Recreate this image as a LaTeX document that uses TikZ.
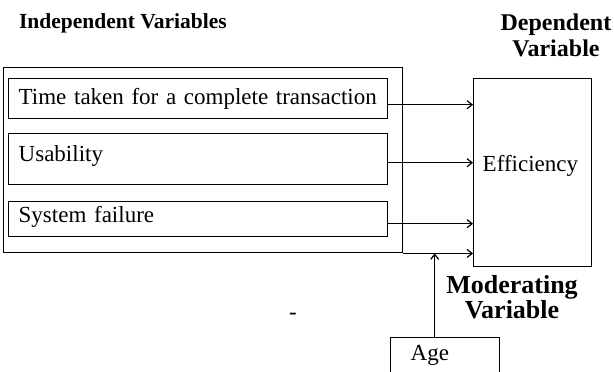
\documentclass[tikz,border=0pt]{standalone}
\usepackage{fontspec}
\setmainfont{Liberation Serif}[BoldFont={Liberation Serif Bold}, ItalicFont={Liberation Serif Italic}]
\usetikzlibrary{arrows.meta,positioning,calc}

\begin{document}
\begin{tikzpicture}[x=1pt, y=-1pt, line width=1.4pt,
    every node/.style={font=\fontsize{23}{27}\selectfont},
    varbox/.style={draw, rectangle, anchor=north west, inner xsep=10pt, inner ysep=0pt,
        text width=359pt, align=left, minimum height=#1},
    arr/.style={-{Straight Barb[length=5pt,width=8pt,line width=1.2pt]}}]
            \clip (0,0) rectangle (614,372);
            % headings
            \node[anchor=west, font=\fontsize{21.5}{26}\selectfont\bfseries] (indep) at (15,23) {Independent Variables};
            \node[align=center, font=\fontsize{24}{26}\selectfont\bfseries] (dep) at (556,35) {Dependent\\Variable};
            \node[align=center, font=\fontsize{26}{25}\selectfont\bfseries] (mod) at (512,297) {Moderating\\Variable};
            \node (dash) at (293,316) {-};
            
            % boxes
            \node[draw, rectangle, anchor=north west, inner sep=0pt, minimum width=399pt, minimum height=185pt] (outer) at (3,67) {};
            \node[varbox=40pt] (time) at (8,78) {Time taken for a complete transaction};
            \node[varbox=51pt, text depth=12pt] (usab) at (8,133) {Usability};
            \node[varbox=35pt, text depth=10pt] (sysf) at (8,201) {System failure};
            \node[draw, rectangle, anchor=north west, inner xsep=9pt, text width=100pt, align=left,
                minimum height=188pt, text depth=19pt] (eff) at (473,78) {Efficiency};
            \node[draw, rectangle, anchor=north west, inner xsep=20pt, text width=69pt, align=left,
                minimum height=44pt, text depth=13pt] (age) at (390,337) {Age};
            
            % connectors
            \draw[arr] ([yshift=-6pt]time.east) -- ([yshift=-6pt]time.east -| eff.west);
            \draw[arr] ([yshift=-3.5pt]usab.east) -- ([yshift=-3.5pt]usab.east -| eff.west);
            \draw[arr] ([yshift=-4.5pt]sysf.east) -- ([yshift=-4.5pt]sysf.east -| eff.west);
            \draw[arr] (outer.south east) -- (outer.south east -| eff.west);
            \draw[arr] ([xshift=-10.5pt]age.north) -- ([xshift=-10.5pt]age.north |- outer.south);
\end{tikzpicture}
\end{document}
